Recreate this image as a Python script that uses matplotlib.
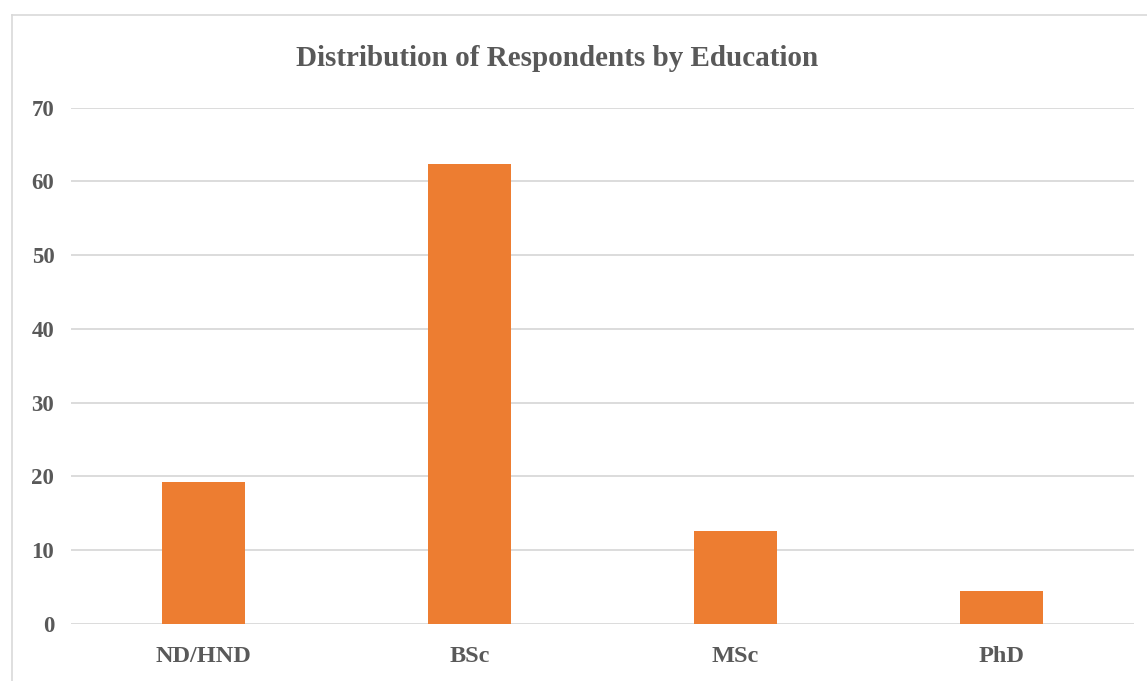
import matplotlib.pyplot as plt
from matplotlib.lines import Line2D

plt.rcParams.update({
    'font.family': 'serif',
    'font.serif': ['Liberation Serif', 'DejaVu Serif'],
    'font.weight': 'bold',
})

categories = ['ND/HND', 'BSc', 'MSc', 'PhD']
respondents = [19.2, 62.3, 12.6, 4.5]
yticks = [0, 10, 20, 30, 40, 50, 60, 70]

text_grey = '#595959'

fig = plt.figure(figsize=(11.47, 6.81), dpi=100)
ax = fig.add_axes([0.0619, 0.0837, 0.9268, 0.7584])

x = range(len(categories))
ax.bar(x, respondents, width=0.312, color='#ED7D31', zorder=3)

ax.set_xlim(-0.5, 3.5)
ax.set_ylim(0, 70)
ax.set_yticks(yticks)
ax.set_xticks(list(x))
ax.set_xticklabels(categories)
ax.yaxis.grid(True, color='#D9D9D9', lw=1.3, zorder=0)
for s in ax.spines.values():
    s.set_visible(False)
ax.tick_params(axis='both', length=0, colors=text_grey, labelsize=17.5)
ax.tick_params(axis='y', pad=12, labelsize=16.5)
ax.tick_params(axis='x', pad=16)

fig.text(0.486, 0.914, 'Distribution of Respondents by Education',
         ha='center', va='center', fontsize=21, fontweight='bold', color=text_grey)

# chart frame, left and top edges
fig.add_artist(Line2D([12/1147, 12/1147], [0, 1 - 15/681], color='#D9D9D9', lw=1.2))
fig.add_artist(Line2D([12/1147, 1], [1 - 15/681, 1 - 15/681], color='#D9D9D9', lw=1.2))

fig.savefig('out.png', dpi=100)
